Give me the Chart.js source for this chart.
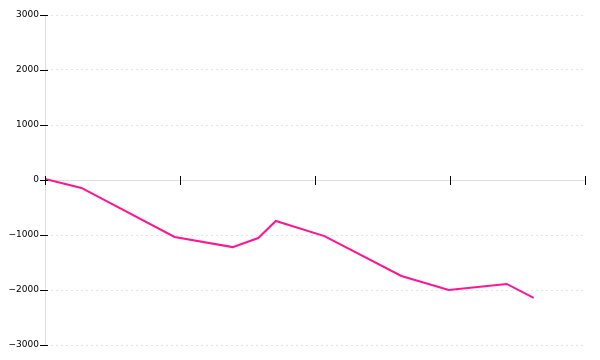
<!DOCTYPE html>
<html lang="en">
<head>
    <meta charset="UTF-8">
    <title>Line chart</title>
    <script src="https://cdn.jsdelivr.net/npm/chart.js"></script>
    <style>
        html, body { margin: 0; padding: 0; background: #fff; }
        #wrap { width: 600px; height: 360px; }
    </style>
</head>
<body>
    <div id="wrap"><canvas id="chart"></canvas></div>
    <script>
        // values
        const xValues = [0, 0.27, 0.96, 1.39, 1.58, 1.71, 2.07, 2.64, 2.99, 3.42, 3.62];
        const yValues = [20, -145, -1035, -1220, -1055, -745, -1020, -1745, -2000, -1890, -2145];
        const xTicks = [0, 1, 2, 3, 4];
        const yTicks = [-3000, -2000, -1000, 0, 1000, 2000, 3000];

        // black tick marks crossing the axis lines
        const tickMarks = {
            id: 'tickMarks',
            afterDraw(chart) {
                const ctx = chart.ctx;
                const xs = chart.scales.x, ys = chart.scales.y;
                const left = chart.chartArea.left;
                const y0 = ys.getPixelForValue(0);
                ctx.save();
                ctx.strokeStyle = '#000';
                ctx.lineWidth = 1;
                ctx.beginPath();
                yTicks.forEach(v => {
                    const py = Math.round(ys.getPixelForValue(v)) + 0.5;
                    ctx.moveTo(left - 5, py);
                    ctx.lineTo(left + 3, py);
                });
                xTicks.forEach(v => {
                    const px = Math.round(xs.getPixelForValue(v)) + 0.5;
                    ctx.moveTo(px, y0 - 4);
                    ctx.lineTo(px, y0 + 5);
                });
                ctx.stroke();
                ctx.restore();
            }
        };

        new Chart(document.getElementById('chart'), {
            type: 'line',
            data: {
                datasets: [{
                    data: xValues.map((x, i) => ({ x: x, y: yValues[i] })),
                    borderColor: '#ff1493',
                    borderWidth: 2,
                    pointRadius: 0,
                    tension: 0,
                    fill: false
                }]
            },
            options: {
                responsive: true,
                maintainAspectRatio: false,
                animation: false,
                layout: { padding: { top: 15, bottom: 15, right: 15, left: 0 } },
                plugins: { legend: { display: false }, tooltip: { enabled: false } },
                scales: {
                    x: {
                        type: 'linear',
                        position: { y: 0 },
                        min: 0,
                        max: 4,
                        ticks: { display: false, stepSize: 1 },
                        grid: { display: false },
                        border: { display: true, color: '#dddddd', width: 1 }
                    },
                    y: {
                        min: -3000,
                        max: 3000,
                        afterFit(scale) { scale.width = 45; },
                        afterBuildTicks(scale) { scale.ticks = yTicks.map(v => ({ value: v })); },
                        ticks: {
                            color: '#000',
                            padding: 6,
                            font: { family: 'DejaVu Sans', size: 9 },
                            callback: v => String(v).replace('-', '\u2212')
                        },
                        grid: {
                            drawTicks: false,
                            color: ctx => ctx.tick && ctx.tick.value === 0 ? 'rgba(0,0,0,0)' : '#e4e4e4'
                        },
                        border: { display: true, color: '#dddddd', width: 1, dash: [2, 3] }
                    }
                }
            },
            plugins: [tickMarks]
        });
    </script>
</body>
</html>
